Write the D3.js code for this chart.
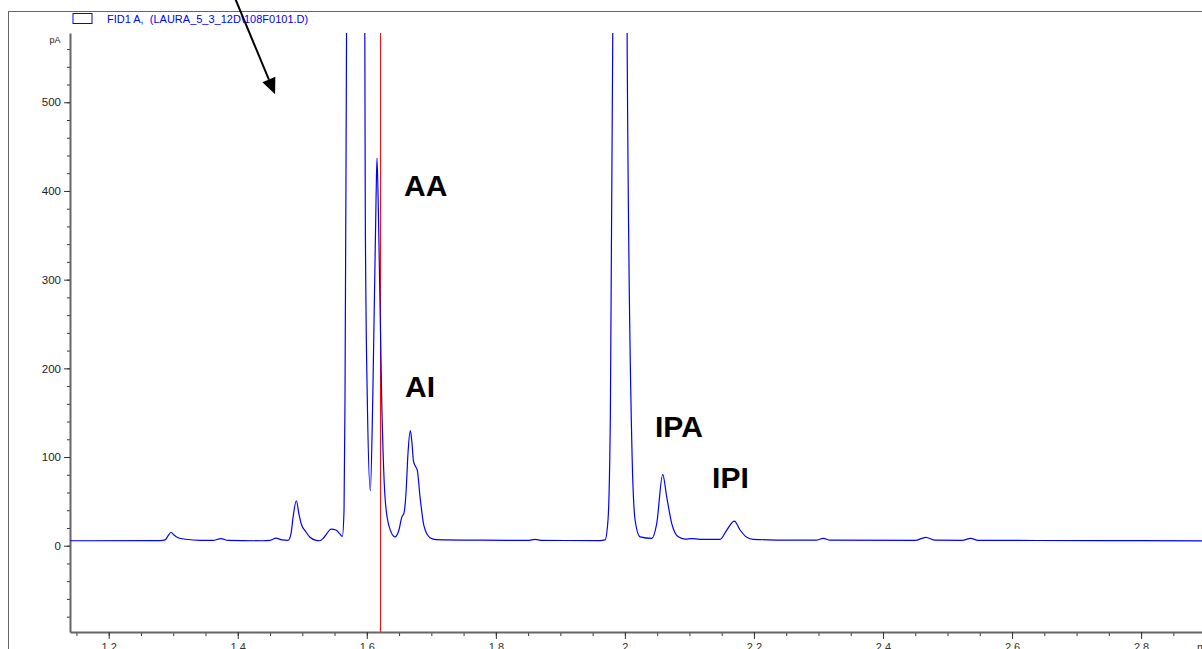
<!DOCTYPE html>
<html>
<head>
<meta charset="utf-8">
<script src="https://cdn.jsdelivr.net/npm/d3@7"></script>
<style>
body { margin: 0; background: #fff; overflow: hidden; }
text { font-family: Arial, "Liberation Sans", sans-serif; }
</style>
</head>
<body>
<div id="chart"></div>
<script>
// retention time (min) and detector signal (pA)
var times = [
  1.14, 1.28, 1.2874, 1.2919, 1.2966, 1.3012, 1.3074, 1.3198, 1.3415,
  1.3617, 1.3736, 1.3849, 1.4376, 1.4500, 1.4593, 1.4686, 1.4779,
  1.4826, 1.4857, 1.4908, 1.4950, 1.4991, 1.5043, 1.5120, 1.5213,
  1.5264, 1.5321, 1.5383, 1.5445, 1.5522, 1.5585, 1.5621,
  1.5647, 1.5662, 1.5686, 1.5818, 1.5969, 1.5977, 1.6008, 1.6055,
  1.6092, 1.6143, 1.6158, 1.6182, 1.6231, 1.6282, 1.6344, 1.6437,
  1.6499, 1.6541, 1.6577, 1.6608, 1.6639, 1.6675, 1.6701, 1.6724,
  1.6758, 1.6783, 1.6825, 1.6887, 1.6980, 1.7073,
  1.7755, 1.8499, 1.8607, 1.8716, 1.9615,
  1.9692, 1.9739, 1.9775, 1.9812, 1.9925, 2.0034, 2.0106, 2.0158, 2.0235,
  2.0416, 2.0493, 2.0586, 2.0648, 2.0726, 2.0828, 2.0932, 2.1036, 2.1165,
  2.1475, 2.1579, 2.1696, 2.1785, 2.1889, 2.1991,
  2.2560, 2.2963, 2.3076, 2.3180, 2.4497, 2.4663, 2.4807,
  2.5225, 2.5360, 2.5473, 2.7364, 2.8945
];
var signal = [
  5.6, 5.8, 6.5, 11, 15.2, 12, 9, 7.3, 6.0,
  6, 8, 6, 5.6, 6, 8.5, 6.5, 6.0,
  14, 32, 50.7, 35, 23, 17, 9.5, 6,
  5.6, 8, 14, 18.8, 17.7, 13, 10.5,
  40, 164, 580, 2500, 580, 367, 164, 62,
  164, 390, 437, 367, 164, 55, 22, 10,
  18, 32, 37, 60, 105, 129.7, 115, 95,
  89, 85, 55, 22, 9, 6.8,
  6.2, 6.0, 7.2, 6.0, 5.8,
  6.5, 30, 150, 580, 3500, 580, 119, 29, 10,
  8.3, 25, 80.5, 55, 25, 10, 7.5, 8, 7.2,
  7.2, 17.7, 27.8, 17.7, 9.5, 7.2,
  6.2, 6.2, 8.3, 6.2, 6.0, 9.5, 6.2,
  6.0, 8.3, 6.0, 5.8, 5.5
];

var xTicks = [1.2, 1.4, 1.6, 1.8, 2.0, 2.2, 2.4, 2.6, 2.8];
var yTicks = [0, 100, 200, 300, 400, 500];

var peakNames = ["AA", "AI", "IPA", "IPI"];
var peakLabelTime = [1.6577, 1.6592, 2.0467, 2.1351];
var peakLabelValue = [394, 167.7, 122.6, 65];

var markerTime = 1.6213;
var arrowFrom = [1.3931, 622];
var arrowTo = [1.4578, 509];
var legendText = "FID1 A,  (LAURA_5_3_12D\\108F0101.D)";

var svgWidth = 1202;
var svgHeight = 649;
var plot = { left: 70, right: 1202, top: 33, bottom: 632 };

var svg = d3.select("#chart")
  .append("svg")
  .attr("width", svgWidth)
  .attr("height", svgHeight);

var x = d3.scaleLinear()
  .domain([1.140, 2.8944])
  .range([plot.left, plot.right]);

var y = d3.scaleLinear()
  .domain([-97.3, 578.1])
  .range([plot.bottom, plot.top]);

// outer frame (left and top edges only are visible)
svg.append("line")
  .attr("x1", 8.5).attr("x2", 8.5).attr("y1", 11).attr("y2", svgHeight)
  .attr("stroke", "#666").attr("stroke-width", 1);
svg.append("line")
  .attr("x1", 8.5).attr("x2", svgWidth).attr("y1", 11.5).attr("y2", 11.5)
  .attr("stroke", "#666").attr("stroke-width", 1);

// legend
svg.append("rect")
  .attr("x", 73).attr("y", 13.5).attr("width", 19).attr("height", 10)
  .attr("fill", "none").attr("stroke", "#0000ff").attr("stroke-width", 1);
svg.append("text")
  .attr("x", 107).attr("y", 23)
  .attr("font-size", "11px")
  .attr("fill", "#0000ff")
  .style("white-space", "pre")
  .text(legendText);

// y axis
var yMinor = d3.range(-80, 561, 20);
svg.append("g")
  .attr("transform", `translate(${plot.left}, 0)`)
  .call(d3.axisLeft(y).tickValues(yMinor).tickSize(3).tickSizeOuter(0).tickFormat(""))
  .call(g => g.select(".domain").remove())
  .call(g => g.selectAll("line").attr("stroke", "#333"));

var yAxis = svg.append("g")
  .attr("transform", `translate(${plot.left}, 0)`)
  .call(d3.axisLeft(y).tickValues(yTicks).tickSize(6).tickSizeOuter(0).tickPadding(3));
yAxis.select(".domain").attr("stroke", "#666").attr("stroke-width", 2);
yAxis.selectAll("line").attr("stroke", "#333");
yAxis.selectAll("text").attr("font-size", "11.5px").attr("fill", "#222")
  .attr("font-family", "Arial, 'Liberation Sans', sans-serif");

svg.append("text")
  .attr("x", 60.5).attr("y", 43)
  .attr("text-anchor", "end")
  .attr("font-size", "9px")
  .attr("fill", "#222")
  .text("pA");

// x axis
var xMinor = d3.range(1.15, 2.89, 0.05);
svg.append("g")
  .attr("transform", `translate(0, ${plot.bottom})`)
  .call(d3.axisBottom(x).tickValues(xMinor).tickSize(4).tickSizeOuter(0).tickFormat(""))
  .call(g => g.select(".domain").remove())
  .call(g => g.selectAll("line").attr("stroke", "#333"));

var xAxis = svg.append("g")
  .attr("transform", `translate(0, ${plot.bottom})`)
  .call(d3.axisBottom(x).tickValues(xTicks).tickSize(7).tickSizeOuter(0).tickPadding(4)
    .tickFormat(d => String(+d.toFixed(1))));
xAxis.select(".domain").attr("stroke", "#666").attr("stroke-width", 2);
xAxis.selectAll("line").attr("stroke", "#333");
xAxis.selectAll("text").attr("font-size", "11px").attr("fill", "#333")
  .attr("font-family", "Arial, 'Liberation Sans', sans-serif");

svg.append("text")
  .attr("x", 1197).attr("y", 651)
  .attr("font-size", "11px")
  .attr("fill", "#333")
  .text("min");

// clip for the trace
svg.append("clipPath")
  .attr("id", "plotClip")
  .append("rect")
  .attr("x", plot.left).attr("y", plot.top)
  .attr("width", plot.right - plot.left)
  .attr("height", plot.bottom - plot.top);

// red marker line
svg.append("line")
  .attr("x1", x(markerTime)).attr("x2", x(markerTime))
  .attr("y1", plot.top).attr("y2", plot.bottom)
  .attr("stroke", "#ff0000").attr("stroke-width", 1);

// chromatogram trace
var trace = times.map((t, i) => ({ t: t, v: signal[i] }));
var line = d3.line()
  .x(d => x(d.t))
  .y(d => y(d.v))
  .curve(d3.curveMonotoneX);

svg.append("path")
  .datum(trace)
  .attr("clip-path", "url(#plotClip)")
  .attr("fill", "none")
  .attr("stroke", "#0000ff")
  .attr("stroke-width", 1.2)
  .attr("d", line);

// peak labels
peakNames.forEach(function(name, i) {
  svg.append("text")
    .attr("x", x(peakLabelTime[i]))
    .attr("y", y(peakLabelValue[i]))
    .attr("font-size", "30px")
    .attr("font-weight", "bold")
    .attr("fill", "#000")
    .text(name);
});

// arrow
var ax1 = x(arrowFrom[0]), ay1 = y(arrowFrom[1]);
var ax2 = x(arrowTo[0]), ay2 = y(arrowTo[1]);
var ang = Math.atan2(ay2 - ay1, ax2 - ax1);
var headLen = 16, headHalf = 7;
var bx = ax2 - headLen * Math.cos(ang), by = ay2 - headLen * Math.sin(ang);
svg.append("line")
  .attr("x1", ax1).attr("y1", ay1).attr("x2", bx).attr("y2", by)
  .attr("stroke", "#000").attr("stroke-width", 2);
svg.append("path")
  .attr("d", `M${ax2},${ay2}L${bx - headHalf * Math.sin(ang)},${by + headHalf * Math.cos(ang)}L${bx + headHalf * Math.sin(ang)},${by - headHalf * Math.cos(ang)}Z`)
  .attr("fill", "#000");
</script>
</body>
</html>
